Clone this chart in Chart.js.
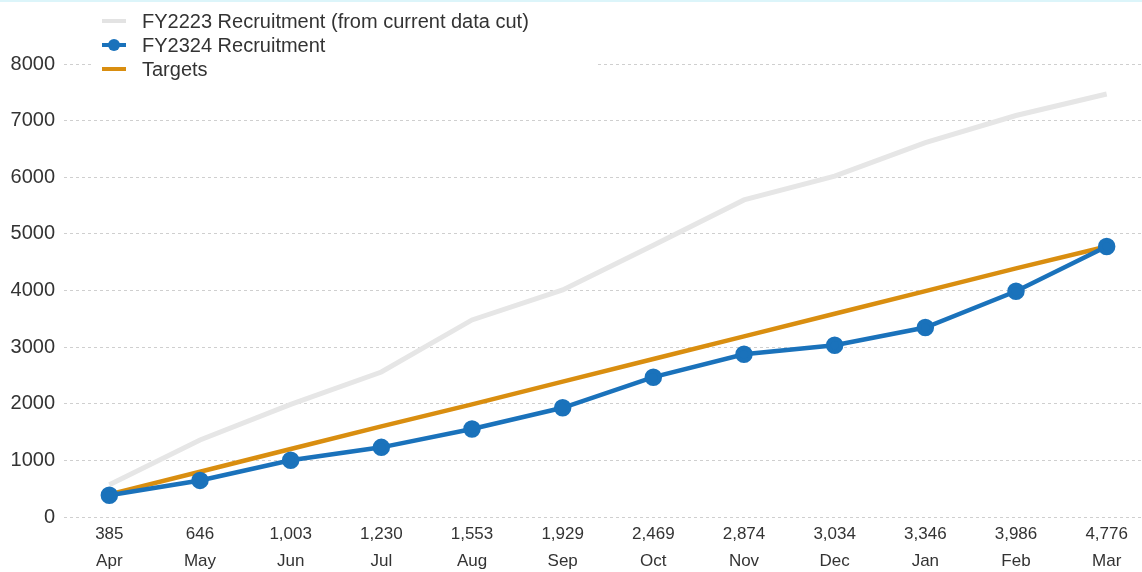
<!DOCTYPE html>
<html>
<head>
<meta charset="utf-8">
<script src="https://cdn.jsdelivr.net/npm/chart.js@4"></script>
<style>
  html, body { margin: 0; background: #fff; overflow: hidden; }
  #wrap { width: 1152px; height: 572px; position: relative; }
</style>
</head>
<body>
<div id="wrap"><canvas id="chart_line" width="1152" height="572"></canvas></div>
<script>
const months = ['Apr', 'May', 'Jun', 'Jul', 'Aug', 'Sep', 'Oct', 'Nov', 'Dec', 'Jan', 'Feb', 'Mar'];
const fy2324 = [385, 646, 1003, 1230, 1553, 1929, 2469, 2874, 3034, 3346, 3986, 4776];
const fy2223 = [570, 1360, 1990, 2560, 3480, 4010, 4800, 5600, 6020, 6610, 7090, 7470];
const targets = [400, 800, 1200, 1600, 1990, 2390, 2790, 3190, 3590, 3990, 4390, 4776];
const yTicks = [0, 1000, 2000, 3000, 4000, 5000, 6000, 7000, 8000];

const FONT = '"Liberation Sans", Arial, sans-serif';
const TEXT = '#333333';

// x labels: recruitment number above month name
const xLabels = months.map((m, i) => [fy2324[i].toLocaleString('en-US'), m]);

// legend drawn by hand so it stacks vertically over the top gridline
const legendPlugin = {
  id: 'stackLegend',
  afterDraw(chart) {
    const c = chart.ctx;
    c.save();
    // thin cyan edge along the top
    c.fillStyle = '#dcf5fa';
    c.fillRect(0, 0, chart.width, 2);
    c.fillStyle = '#fff';
    c.fillRect(92, 6, 506, 76);
    const items = [
      { text: 'FY2223 Recruitment (from current data cut)', color: '#e3e3e3', dot: false },
      { text: 'FY2324 Recruitment', color: '#1a72bb', dot: true },
      { text: 'Targets', color: '#d98e10', dot: false },
    ];
    items.forEach((it, i) => {
      const y = 21 + i * 24;
      c.strokeStyle = it.color;
      c.lineWidth = 4;
      c.beginPath();
      c.moveTo(102, y);
      c.lineTo(126, y);
      c.stroke();
      if (it.dot) {
        c.fillStyle = it.color;
        c.beginPath();
        c.arc(114, y, 6, 0, Math.PI * 2);
        c.fill();
      }
      c.fillStyle = TEXT;
      c.font = '20px ' + FONT;
      c.textBaseline = 'middle';
      c.fillText(it.text, 142, y + 1);
    });
    c.restore();
  }
};

new Chart(document.getElementById('chart_line'), {
  type: 'line',
  data: {
    labels: xLabels,
    datasets: [
      {
        label: 'FY2324 Recruitment',
        data: fy2324,
        borderColor: '#1a72bb',
        backgroundColor: '#1a72bb',
        borderWidth: 4.5,
        pointRadius: 6.5,
        pointHoverRadius: 6.5,
        order: 1,
      },
      {
        label: 'Targets',
        data: targets,
        borderColor: '#d98e10',
        borderWidth: 4.5,
        pointRadius: 0,
        order: 2,
      },
      {
        label: 'FY2223 Recruitment (from current data cut)',
        data: fy2223,
        borderColor: '#e6e6e6',
        borderWidth: 5,
        pointRadius: 0,
        order: 3,
      },
    ],
  },
  options: {
    responsive: false,
    animation: false,
    clip: false,
    layout: { autoPadding: false, padding: { top: 64, right: 0, left: 0, bottom: 0 } },
    plugins: {
      legend: { display: false },
      tooltip: { enabled: false },
    },
    scales: {
      x: {
        offset: true,
        afterFit(scale) { scale.height = 55; },
        grid: { display: false },
        border: { display: false },
        ticks: {
          color: TEXT,
          font: { family: FONT, size: 17, lineHeight: '27px' },
          maxRotation: 0,
          autoSkip: false,
          padding: -4,
        },
      },
      y: {
        min: 0,
        max: 8000,
        afterBuildTicks(scale) {
          scale.ticks = yTicks.map(v => ({ value: v }));
        },
        afterFit(scale) { scale.width = 64; },
        border: { display: false, dash: [3, 3] },
        grid: { color: '#cfcfcf', lineWidth: 1, drawTicks: false },
        ticks: {
          color: TEXT,
          font: { family: FONT, size: 20 },
          padding: 9,
          callback: v => String(v),
        },
      },
    },
  },
  plugins: [legendPlugin],
});
</script>
</body>
</html>
